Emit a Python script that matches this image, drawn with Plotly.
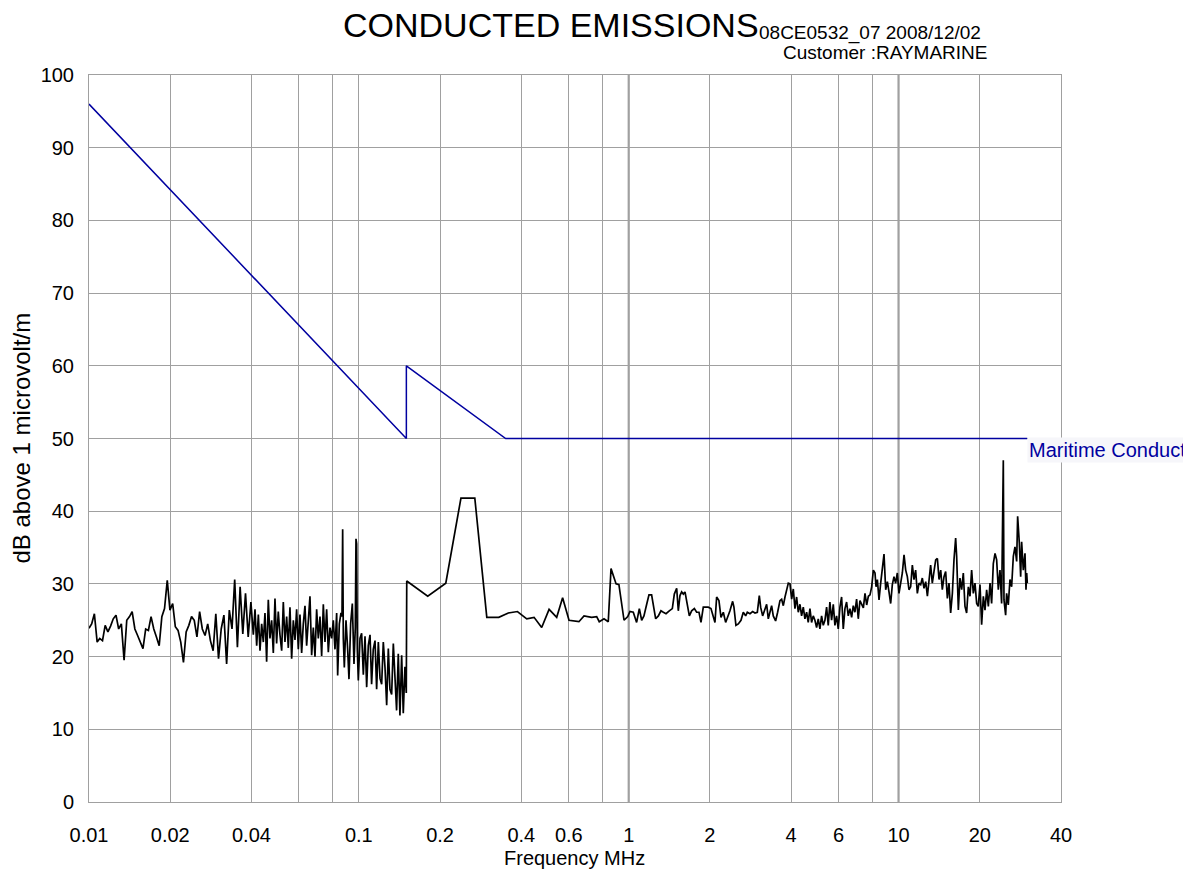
import plotly.graph_objects as go

# ---------------- data ----------------
# Limit line (Maritime conducted limits)
limit_freq = [0.01, 0.15, 0.15, 0.35, 30.0]
limit_db = [96.0, 50.0, 60.0, 50.0, 50.0]

# Measured trace, segment A (10 kHz - 40 kHz)
freq_a = [0.01000, 0.01023, 0.01047, 0.01072, 0.01096, 0.01122, 0.01148, 0.01175, 0.01202, 0.01230,
          0.01259, 0.01288, 0.01318, 0.01349, 0.01380, 0.01413, 0.01445, 0.01479, 0.01514, 0.01549,
          0.01585, 0.01622, 0.01660, 0.01698, 0.01738, 0.01778, 0.01820, 0.01862, 0.01905, 0.01950,
          0.01995, 0.02042, 0.02089, 0.02138, 0.02188, 0.02239, 0.02291, 0.02344, 0.02399, 0.02455,
          0.02512, 0.02570, 0.02630, 0.02692, 0.02754, 0.02818, 0.02884, 0.02951, 0.03020, 0.03090,
          0.03162, 0.03236, 0.03311, 0.03388, 0.03467, 0.03548, 0.03631, 0.03715, 0.03802, 0.03890,
          0.03981]
db_a = [23.9, 24.5, 25.9, 22.0, 22.5, 22.2, 24.3, 23.4, 24.2, 25.2,
        25.7, 23.8, 24.5, 19.5, 25.0, 25.5, 26.2, 23.8, 22.9, 22.0,
        21.1, 23.8, 23.6, 25.5, 23.8, 22.7, 21.5, 25.5, 26.6, 30.5,
        26.4, 27.3, 24.1, 23.6, 22.0, 19.2, 23.4, 24.3, 25.5, 25.0,
        22.7, 26.2, 23.8, 22.9, 24.5, 22.2, 20.8, 25.9, 19.7, 23.8,
        25.7, 19.0, 26.4, 23.8, 30.6, 21.3, 29.6, 23.1, 28.7, 22.7,
        27.5]

# Segment B (40 kHz - 150 kHz)
freq_b = [0.04064, 0.04123, 0.04182, 0.04242, 0.04302, 0.04364, 0.04426, 0.04489, 0.04553, 0.04618,
          0.04684, 0.04752, 0.04820, 0.04889, 0.04958, 0.05029, 0.05101, 0.05176, 0.05249, 0.05324,
          0.05401, 0.05478, 0.05556, 0.05636, 0.05717, 0.05799, 0.05881, 0.05965, 0.06051, 0.06138,
          0.06225, 0.06315, 0.06405, 0.06497, 0.06590, 0.06685, 0.06781, 0.06878, 0.06976, 0.07076,
          0.07178, 0.07281, 0.07385, 0.07491, 0.07598, 0.07707, 0.07816, 0.07930, 0.08043, 0.08159,
          0.08275,
          0.08346, 0.08466, 0.08587, 0.08661, 0.08710, 0.08759, 0.08834, 0.08962, 0.09090, 0.09193,
          0.09324, 0.09459, 0.09594, 0.09703, 0.09759, 0.09813, 0.09870, 0.09954,
          0.1010, 0.1024, 0.1039, 0.1054, 0.1069, 0.1084, 0.1100, 0.1115, 0.1131, 0.1148,
          0.1164, 0.1181, 0.1198, 0.1215, 0.1232, 0.1250, 0.1268, 0.1286, 0.1304, 0.1323,
          0.1342, 0.1361, 0.1380, 0.1400, 0.1420, 0.1441, 0.1461, 0.1482, 0.1499]
db_b = [23.0, 26.5, 21.5, 25.8, 20.8, 24.5, 22.0, 26.0, 19.3, 27.8,
        22.5, 25.0, 20.5, 28.0, 21.8, 26.2, 23.0, 20.8, 27.5, 22.0,
        25.5, 21.2, 26.8, 19.7, 25.0, 22.3, 26.5, 21.0, 25.8, 20.5,
        24.5, 27.0, 21.5, 25.5, 28.3, 20.2, 24.0, 20.0, 26.5, 22.5,
        25.5, 20.1, 27.2, 22.0, 26.5, 20.6, 24.0, 22.5, 25.0, 21.0,
        26.0,
        17.4, 24.5, 26.0, 25.5, 37.5, 22.5, 18.5, 25.0, 21.0, 16.9,
        24.5, 27.3, 19.0, 24.0, 36.2, 35.5, 21.0, 16.7,
        22.5, 23.2, 17.5, 22.8, 15.8, 21.5, 23.0, 16.2, 21.0, 22.2,
        15.5, 22.0, 17.0, 16.2, 22.0, 18.5, 13.3, 21.1, 15.5, 14.8,
        21.8, 16.0, 12.6, 20.4, 11.9, 20.2, 12.2, 18.6, 15.0]

# Segment C (150 kHz - 1 MHz)
freq_c = [0.1505, 0.180, 0.210, 0.239, 0.269, 0.298, 0.330, 0.358, 0.387, 0.419,
          0.446, 0.476, 0.507, 0.541, 0.569, 0.601, 0.654, 0.683, 0.729, 0.761,
          0.778, 0.810, 0.840, 0.860, 0.898, 0.920, 0.961, 0.992]
db_c = [30.4, 28.3, 30.1, 41.8, 41.8, 25.4, 25.4, 26.0, 26.2, 25.2,
        25.4, 24.0, 26.5, 25.4, 28.1, 25.0, 24.8, 25.6, 25.4, 25.5,
        24.8, 25.2, 24.8, 32.1, 30.0, 29.9, 25.0, 25.5]

# Segment D (1 MHz - 7.2 MHz)
freq_d = [1.011, 1.040, 1.070, 1.095, 1.117, 1.139, 1.166, 1.189, 1.216, 1.234,
          1.259, 1.288, 1.317, 1.344, 1.375, 1.414, 1.451, 1.476, 1.506, 1.527,
          1.549, 1.571, 1.594, 1.617, 1.640, 1.678, 1.711, 1.751, 1.786, 1.822,
          1.853, 1.890, 1.934, 1.972, 2.018, 2.059, 2.088, 2.118, 2.160, 2.198,
          2.242, 2.287, 2.326, 2.373, 2.428, 2.455, 2.497, 2.548, 2.607, 2.659,
          2.713, 2.752, 2.815, 2.880, 2.938, 2.997, 3.048, 3.083, 3.136, 3.181,
          3.245, 3.291, 3.338, 3.386, 3.434, 3.503, 3.564, 3.636, 3.688, 3.741,
          3.795, 3.849, 3.904, 3.960, 4.017, 4.074, 4.132, 4.191, 4.251, 4.312,
          4.373, 4.436, 4.499, 4.564, 4.628, 4.695, 4.762, 4.830, 4.899, 4.970,
          5.041, 5.113, 5.186, 5.261, 5.336, 5.413, 5.489, 5.568, 5.649, 5.730,
          5.811, 5.894, 5.979, 6.065, 6.152, 6.240, 6.330, 6.420, 6.512, 6.606,
          6.701, 6.796, 6.893, 6.992, 7.093, 7.194]
db_d = [26.2, 26.1, 24.7, 26.6, 25.0, 25.6, 27.2, 28.5, 28.5, 27.0,
        25.2, 25.6, 26.3, 26.1, 25.9, 26.3, 26.6, 28.6, 29.4, 26.3,
        28.4, 28.9, 28.6, 28.9, 27.5, 25.6, 26.3, 26.6, 26.1, 26.1,
        24.7, 26.8, 26.8, 26.8, 26.6, 25.4, 24.7, 28.2, 27.7, 25.4,
        26.1, 24.7, 25.4, 26.3, 27.6, 26.8, 24.3, 24.5, 25.0, 26.1,
        25.6, 26.1, 25.9, 26.2, 26.0, 26.1, 28.4, 26.8, 25.6, 26.3,
        27.2, 25.2, 26.1, 27.0, 25.6, 24.9, 26.1, 27.7, 27.9, 27.0,
        28.2, 29.2, 30.1, 30.0, 27.9, 29.3, 26.6, 28.2, 26.1, 27.2,
        25.6, 26.8, 25.2, 26.1, 24.7, 26.6, 24.7, 25.6, 25.0, 24.0,
        25.2, 23.8, 25.6, 24.3, 25.0, 26.8, 24.3, 27.5, 25.0, 27.2,
        24.3, 25.6, 23.8, 26.8, 28.2, 23.8, 26.6, 27.5, 25.6, 26.6,
        25.4, 27.0, 26.1, 27.9, 25.2, 27.7]

# Segment E (7.4 MHz - 30 MHz)
freq_e = [7.407, 7.512, 7.620, 7.729, 7.840, 7.951, 8.066, 8.181, 8.252, 8.346,
          8.466, 8.587, 8.709, 8.834, 8.962, 9.090, 9.218, 9.350, 9.484, 9.621,
          9.757, 9.897, 10.04, 10.18, 10.33, 10.48, 10.63, 10.78, 10.93, 11.09,
          11.25, 11.41, 11.57, 11.74, 11.91, 12.08, 12.25, 12.43, 12.61, 12.79,
          12.97, 13.15, 13.34, 13.53, 13.73, 13.93, 14.13, 14.33, 14.53, 14.74,
          14.95, 15.17, 15.38, 15.60, 15.83, 16.05, 16.28, 16.42, 16.66, 16.89,
          17.14, 17.38, 17.63, 17.88, 18.14, 18.40, 18.66, 18.93, 19.20, 19.48,
          19.75, 20.04, 20.32, 20.62, 20.91, 21.21, 21.52, 21.83, 22.13, 22.45,
          22.78, 23.10, 23.43, 23.76, 24.10, 24.45, 24.59, 24.94, 25.15, 25.51,
          25.88, 26.25, 26.63, 27.01, 27.40, 27.63, 28.03, 28.35, 28.59, 29.00,
          29.42, 29.67, 29.85, 30.00]
db_e = [26.7, 28.7, 27.1, 28.3, 28.5, 29.6, 31.9, 31.5, 29.6, 30.6,
        27.8, 30.1, 31.9, 34.1, 29.2, 30.3, 28.9, 27.3, 29.9, 31.0,
        30.1, 31.5, 28.7, 30.3, 31.5, 34.0, 31.9, 31.0, 29.2, 29.6,
        32.6, 30.6, 31.9, 28.7, 30.1, 29.9, 30.8, 29.4, 30.3, 28.3,
        31.0, 32.6, 30.1, 31.5, 33.3, 33.5, 30.6, 31.9, 29.2, 31.0,
        31.7, 28.0, 30.1, 26.0, 28.7, 33.3, 36.3, 33.8, 26.4, 30.8,
        29.2, 31.5, 26.9, 26.0, 29.6, 28.3, 31.9, 28.7, 30.1, 27.3,
        26.9, 29.9, 24.4, 28.3, 26.4, 29.2, 26.9, 30.1, 27.3, 32.8,
        34.2, 33.3, 29.2, 31.9, 27.3, 47.0, 27.8, 25.7, 28.7, 27.1,
        30.6, 29.6, 33.8, 35.1, 33.1, 39.3, 35.6, 31.0, 35.8, 31.9,
        34.2, 29.2, 31.5, 30.1]

x_tick_vals = [0.01, 0.02, 0.04, 0.1, 0.2, 0.4, 0.6, 1, 2, 4, 6, 10, 20, 40]
x_tick_text = ["0.01", "0.02", "0.04", "0.1", "0.2", "0.4", "0.6", "1", "2", "4", "6", "10", "20", "40"]
x_minor_grid = [0.06, 0.08, 0.8, 8]
y_tick_vals = [0, 10, 20, 30, 40, 50, 60, 70, 80, 90, 100]

meas_freq = freq_a + freq_b + freq_c + freq_d + freq_e
meas_db = db_a + db_b + db_c + db_d + db_e

FONT = "Arial, 'Liberation Sans', sans-serif"
GRID = "#a0a0a0"

fig = go.Figure()
fig.add_trace(go.Scatter(x=limit_freq, y=limit_db, mode="lines",
                         line=dict(color="#0000a0", width=1.5), showlegend=False,
                         name="Maritime Conducted"))
fig.add_trace(go.Scatter(x=meas_freq, y=meas_db, mode="lines",
                         line=dict(color="#000000", width=1.7), showlegend=False,
                         name="Measured"))

# slightly heavier decade lines at 1 and 10 MHz
for xv in (1, 10):
    fig.add_shape(type="line", xref="x", yref="paper", x0=xv, x1=xv, y0=0, y1=1,
                  line=dict(color="#8c8c8c", width=2), layer="below")

fig.update_xaxes(type="log", range=[-2, 1.60206],
                 tickmode="array", tickvals=x_tick_vals, ticktext=x_tick_text,
                 showgrid=True, gridcolor=GRID, gridwidth=1,
                 minor=dict(tickmode="array", tickvals=x_minor_grid, showgrid=True,
                            gridcolor=GRID, gridwidth=1, ticks=""),
                 showline=True, linecolor=GRID, linewidth=1, mirror=True,
                 ticks="", zeroline=False, ticklabelstandoff=15,
                 tickfont=dict(family=FONT, size=20, color="#000"))
fig.update_yaxes(range=[0, 100], tickmode="array", tickvals=y_tick_vals,
                 showgrid=True, gridcolor=GRID, gridwidth=1,
                 showline=True, linecolor=GRID, linewidth=1, mirror=True,
                 ticks="", zeroline=False, ticklabelstandoff=10,
                 tickfont=dict(family=FONT, size=20, color="#000"))

annotations = [
    dict(text="CONDUCTED EMISSIONS", xref="paper", yref="paper", x=0.4753, y=1.0688,
         xanchor="center", yanchor="middle", showarrow=False,
         font=dict(family=FONT, size=34, color="#000")),
    dict(text="08CE0532_07 2008/12/02", xref="paper", yref="paper", x=0.6872, y=1.0578,
         xanchor="left", yanchor="middle", showarrow=False,
         font=dict(family=FONT, size=19, color="#000")),
    dict(text="Customer :RAYMARINE", xref="paper", yref="paper", x=0.7119, y=1.0303,
         xanchor="left", yanchor="middle", showarrow=False,
         font=dict(family=FONT, size=19, color="#000")),
    dict(text="dB above 1 microvolt/m", xref="paper", yref="paper", x=-0.0689, y=0.5,
         xanchor="center", yanchor="middle", textangle=-90, showarrow=False, xshift=-1,
         font=dict(family=FONT, size=24, color="#000")),
    dict(text="Frequency MHz", xref="paper", yref="paper", x=0.499, y=-0.077,
         xanchor="center", yanchor="middle", showarrow=False,
         font=dict(family=FONT, size=20, color="#000")),
    dict(text="Maritime Conducted", xref="x", yref="y", x=1.4771, y=50,
         xanchor="left", yanchor="top", xshift=0, yshift=2, showarrow=False, bgcolor="#f6f6fa",
         font=dict(family=FONT, size=20, color="#0000a0")),
]

# the page places the figure 8 px in from the top-left corner
fig.update_layout(width=1175, height=866,
                  margin=dict(l=81, r=1175 - 1053, t=67, b=72, pad=0),
                  paper_bgcolor="white", plot_bgcolor="white",
                  annotations=annotations, showlegend=False)

fig.write_html("out.html")
